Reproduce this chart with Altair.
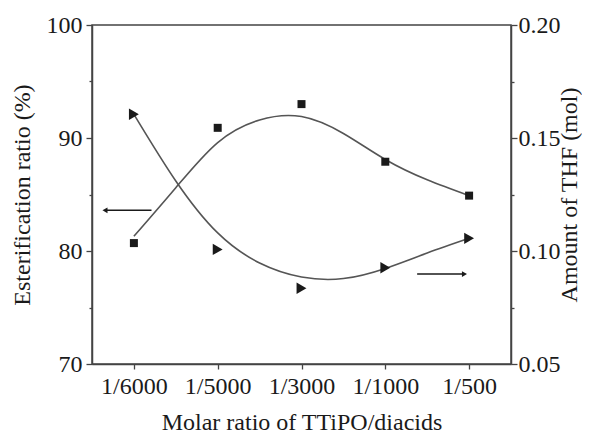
import altair as alt
import pandas as pd

# ---- data ----
categories = ["1/6000", "1/5000", "1/3000", "1/1000", "1/500"]
cat_pos = [1, 2, 3, 4, 5]
esterification = [80.7, 90.9, 93.0, 87.9, 84.9]          # %, left axis (squares)
thf_amount = [0.1605, 0.1007, 0.0835, 0.0926, 0.1056]     # mol, right axis (triangles)

# smooth fitted curves
fit_pos = [1, 1.5, 2, 2.5, 3, 3.5, 4, 4.5, 5]
esterification_fit = [81.3, 85.6, 89.6, 91.6, 91.9, 90.4, 88.1, 86.3, 84.9]
thf_fit = [0.1605, 0.131, 0.108, 0.0947, 0.0885, 0.0878, 0.0923, 0.0991, 0.1056]

# annotation arrows (which axis each series belongs to)
left_arrow_x = [0.66, 1.21]
left_arrow_head = [0.655]
left_arrow_y = [83.6]
right_arrow_x = [4.38, 4.94]
right_arrow_head = [4.945]
right_arrow_y = [0.0898]

FONT = "Liberation Serif"
INK = "#1a1a1a"
LINE = "#555555"

pts = pd.DataFrame({"x": cat_pos, "cat": categories, "est": esterification, "thf": thf_amount})
fit = pd.DataFrame({"x": fit_pos, "est": esterification_fit, "thf": thf_fit})
la = pd.DataFrame({"x": [left_arrow_x[0]], "x2": [left_arrow_x[1]], "y": left_arrow_y, "hx": left_arrow_head})
ra = pd.DataFrame({"x": [right_arrow_x[0]], "x2": [right_arrow_x[1]], "y": right_arrow_y, "hx": right_arrow_head})

label_array = "[" + ",".join("'%s'" % c for c in categories) + "]"

xscale = alt.Scale(domain=[0.5, 5.5], nice=False, zero=False)
xaxis = alt.Axis(
    title="Molar ratio of TTiPO/diacids",
    values=cat_pos,
    labelExpr=label_array + "[datum.value - 1]",
    tickSize=5, labelPadding=5, titlePadding=12,
    labelFlush=False,
)

lscale = alt.Scale(domain=[70, 100], nice=False, zero=False)
laxis = alt.Axis(
    title="Esterification ratio (%)",
    orient="left",
    values=[70, 75, 80, 85, 90, 95, 100],
    labelExpr="datum.value % 10 === 0 ? datum.label : ''",
    tickSize={"condition": {"test": "datum.value % 10 === 0", "value": 6}, "value": 3},
    labelPadding=4, titlePadding=12,
)

rscale = alt.Scale(domain=[0.05, 0.20], nice=False, zero=False)
raxis = alt.Axis(
    title="Amount of THF (mol)",
    orient="right",
    values=[0.05, 0.075, 0.10, 0.125, 0.15, 0.175, 0.20],
    format=".2f",
    labelExpr="round(datum.value * 1000) % 50 === 0 ? datum.label : ''",
    tickSize={"condition": {"test": "round(datum.value * 1000) % 50 === 0", "value": 6}, "value": 3},
    labelPadding=1, titlePadding=-3, titleAngle=270, titleBaseline="top",
)

X = alt.X("x:Q", scale=xscale, axis=xaxis)

# ---- left group ----
est_line = alt.Chart(fit).mark_line(interpolate="natural", color=LINE, strokeWidth=1.6).encode(
    x=X, y=alt.Y("est:Q", scale=lscale, axis=laxis))
est_pts = alt.Chart(pts).mark_point(shape="square", filled=True, size=64, color=INK, opacity=1).encode(
    x=X, y=alt.Y("est:Q", scale=lscale, axis=laxis))
la_rule = alt.Chart(la).mark_rule(color=INK, strokeWidth=1.4).encode(
    x=X, x2="x2:Q", y=alt.Y("y:Q", scale=lscale, axis=laxis))
la_head = alt.Chart(la).mark_point(shape="triangle-left", filled=True, size=34, color=INK, opacity=1).encode(
    x=alt.X("hx:Q", scale=xscale, axis=xaxis), y=alt.Y("y:Q", scale=lscale, axis=laxis))
left = alt.layer(est_line, est_pts, la_rule, la_head)

# ---- right group ----
thf_line = alt.Chart(fit).mark_line(interpolate="natural", color=LINE, strokeWidth=1.6).encode(
    x=X, y=alt.Y("thf:Q", scale=rscale, axis=raxis))
thf_pts = alt.Chart(pts).mark_point(shape="triangle-right", filled=True, size=130, color=INK, opacity=1).encode(
    x=X, y=alt.Y("thf:Q", scale=rscale, axis=raxis))
ra_rule = alt.Chart(ra).mark_rule(color=INK, strokeWidth=1.4).encode(
    x=X, x2="x2:Q", y=alt.Y("y:Q", scale=rscale, axis=raxis))
ra_head = alt.Chart(ra).mark_point(shape="triangle-right", filled=True, size=34, color=INK, opacity=1).encode(
    x=alt.X("hx:Q", scale=xscale, axis=xaxis), y=alt.Y("y:Q", scale=rscale, axis=raxis))
right = alt.layer(thf_line, thf_pts, ra_rule, ra_head)

chart = (
    alt.layer(left, right)
    .resolve_scale(y="independent")
    .properties(
        width=419, height=339,
        autosize=alt.AutoSizeParams(type="none"),
        padding={"left": 84, "top": 17, "right": 71, "bottom": 70},
        background="white",
    )
    .configure_view(stroke="#444444", strokeWidth=1.5)
    .configure_axis(
        grid=False,
        labelFont=FONT, titleFont=FONT,
        labelFontSize=24, titleFontSize=24, titleFontWeight="normal",
        labelColor=INK, titleColor=INK,
        domainColor="#444444", domainWidth=1.5,
        tickColor="#444444", tickWidth=1.3,
    )
)

chart.save("out.html", embed_options={"renderer": "svg", "actions": False})
